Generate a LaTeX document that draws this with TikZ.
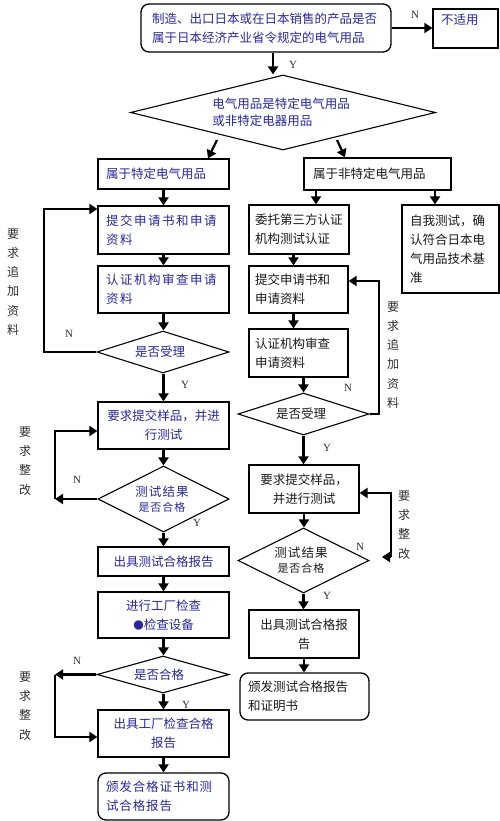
\documentclass[tikz,border=0pt]{standalone}
\usepackage{fontspec}
\setmainfont{Liberation Serif}
\newfontfamily\cjk{Noto Sans CJK SC}
\usetikzlibrary{shapes.geometric,arrows.meta}
\definecolor{navy}{RGB}{40,40,150}
\definecolor{ink}{RGB}{25,25,25}
\definecolor{lab}{RGB}{45,45,45}
\newcommand\lsp[1]{{\addfontfeature{LetterSpace=12}#1}}
\newcommand\lspb[1]{{\addfontfeature{LetterSpace=9}#1}}
\begin{document}
\begin{tikzpicture}[x=1pt,y=1pt,
 bx/.style={draw, line width=1.3pt, inner xsep=8pt, inner ysep=0pt, align=left, font=\cjk\fontsize{12.5}{19}\selectfont, text=navy},
 rbx/.style={bx, inner xsep=6pt, text=ink},
 rnd/.style={rounded corners=8pt},
 dia/.style={diamond, draw, line width=1.1pt, inner sep=0pt},
 dtxt/.style={inner sep=0pt, align=left, font=\cjk\fontsize{12.5}{17}\selectfont, text=navy},
 arr/.style={line width=2.2pt, -{Triangle[width=10pt,length=8pt]}},
 yn/.style={font=\fontsize{11}{11}\selectfont, text=lab, inner sep=0pt},
 vlab/.style={font=\cjk\fontsize{12}{19.3}\selectfont, text=lab, align=center, inner sep=0pt},
]
\useasboundingbox (0,0) rectangle (500,-821);

% top
\node[bx, rnd, text width=228pt, inner xsep=11pt, minimum height=48pt] (top) at (266,-28) {制造、出口日本或在日本销售的产品是否\\属于日本经济产业省令规定的电气用品};
\node[bx, text width=49pt, minimum height=39pt] (na) at (465.5,-28.5) {不适用\\\mbox{}};
\node[dia, minimum width=305pt, minimum height=75pt] (d1) at (283,-112.5) {};
\node[dtxt] (d1t) at (281,-112) {电气用品是特定电气用品\\或非特定电器用品};

% left column
\node[bx, text width=115pt, minimum height=30pt] (L1) at (163.5,-174) {属于特定电气用品};
\node[bx, text width=115pt, minimum height=48pt] (L2) at (163.5,-230) {\lsp{提交申请书和申请}\\\lsp{资料}};
\node[bx, text width=115pt, minimum height=47pt] (L3) at (163.5,-289.5) {\lsp{认证机构审查申请}\\\lsp{资料}};
\node[dia, minimum width=132pt, minimum height=42pt] (Ld1) at (163,-352) {};
\node[dtxt] (Ld1t) at (160,-352) {是否受理};
\node[bx, align=center, text width=115pt, minimum height=47pt] (L4) at (163.5,-425.5) {要求提交样品，并进\\行测试};
\node[dia, minimum width=131pt, minimum height=66pt] (Ld2) at (163.5,-499) {};
\node[dtxt, align=center, font=\cjk\fontsize{12.5}{15}\selectfont] (Ld2t) at (162,-499) {\lspb{测试结果}\\{\fontsize{11}{11}\selectfont\lspb{是否合格}}};
\node[bx, align=center, text width=115pt, minimum height=29pt] (L5) at (163.5,-561.5) {出具测试合格报告};
\node[bx, align=center, text width=115pt, minimum height=46pt] (L6) at (163.5,-615) {进行工厂检查\\{\fontsize{10.5}{10.5}\selectfont ●}检查设备};
\node[dia, minimum width=132pt, minimum height=37pt] (Ld3) at (163,-674.5) {};
\node[dtxt] (Ld3t) at (159,-675) {是否合格};
\node[bx, align=center, text width=115pt, minimum height=47pt] (L7) at (163.5,-733.5) {出具工厂检查合格\\报告};
\node[bx, rnd, text width=115pt, minimum height=47pt] (L8) at (163.5,-796.5) {{\addfontfeature{LetterSpace=7}颁发合格证书和测}\\{\addfontfeature{LetterSpace=7}试合格报告}};

% right column
\node[rbx, inner xsep=9pt, text width=129pt, minimum height=32pt] (R1) at (377.5,-174) {属于非特定电气用品};
\node[rbx, text width=88pt, minimum height=49pt] (R2) at (299,-229.5) {委托第三方认证\\机构测试认证};
\node[rbx, inner xsep=8pt, text width=81pt, minimum height=88pt] (R3) at (450.5,-249) {自我测试，确\\认符合日本电\\气用品技术基\\准};
\node[rbx, text width=87pt, minimum height=47pt] (R4) at (298.5,-289.5) {提交申请书和\\申请资料};
\node[rbx, text width=87pt, minimum height=48pt] (R5) at (298.5,-353) {认证机构审查\\申请资料};
\node[dia, minimum width=131pt, minimum height=42pt] (Rd1) at (303.5,-414) {};
\node[dtxt, text=ink] (Rd1t) at (301,-414) {是否受理};
\node[rbx, align=center, text width=98pt, minimum height=48pt] (R6) at (304,-489) {要求提交样品，\\并进行测试};
\node[dia, minimum width=131pt, minimum height=65pt] (Rd2) at (303.5,-560.5) {};
\node[dtxt, text=ink, align=center, font=\cjk\fontsize{12.5}{15}\selectfont] (Rd2t) at (301,-560) {\lspb{测试结果}\\{\fontsize{11}{11}\selectfont\lspb{是否合格}}};
\node[rbx, align=center, text width=98pt, minimum height=48pt] (R7) at (304,-634) {出具测试合格报\\告};
\node[rbx, rnd, inner xsep=8pt, text width=113pt, minimum height=47pt] (R8) at (304.5,-696.5) {颁发测试合格报告\\和证明书};

% Y / N labels
\node[yn] (n0) at (415,-15) {N};
\node[yn] (y0) at (293,-65) {Y};
\node[yn] (n1) at (69,-334) {N};
\node[yn] (y1) at (185,-385) {Y};
\node[yn] (n2) at (77,-480) {N};
\node[yn] (y2) at (197,-523) {Y};
\node[yn] (n3) at (77,-661) {N};
\node[yn] (y3) at (186,-705) {Y};
\node[yn] (n4) at (348,-388) {N};
\node[yn] (y4) at (327,-448) {Y};
\node[yn] (n5) at (360,-547) {N};
\node[yn] (y5) at (327,-596) {Y};

% vertical labels
\node[vlab] (v1) at (13,-282) {要\\求\\追\\加\\资\\料};
\node[vlab] (v2) at (393,-355) {要\\求\\追\\加\\资\\料};
\node[vlab] (v3) at (25,-461) {要\\求\\整\\改};
\node[vlab] (v4) at (25,-706) {要\\求\\整\\改};
\node[vlab] (v5) at (404,-525) {要\\求\\整\\改};

% main arrows
\draw[arr] ([xshift=7pt]top.south) -- ([xshift=-10pt]d1.north);
\draw[arr] (top.east) -- (top.east -| na.west);
\coordinate (d1l) at (217,-140);
\coordinate (d1r) at (337,-140);
\draw[arr] (d1l) -- ([xshift=44.5pt]L1.north);
\draw[arr] (d1r) -- ([xshift=-32.5pt]R1.north);
\draw[arr] ([xshift=-61.5pt]R1.south) -- ([xshift=17pt]R2.north);
\draw[arr] ([xshift=57.5pt]R1.south) -- ([xshift=-15.5pt]R3.north);

\draw[arr] (L1.south) -- (L2.north);
\draw[arr] (L2.south) -- (L3.north);
\draw[arr] (L3.south) -- (L3.south |- Ld1.north);
\draw[arr] (Ld1.south -| L4.north) -- (L4.north);
\draw[arr] (L4.south) -- (Ld2.north);
\draw[arr] (Ld2.south) -- (L5.north);
\draw[arr] (L5.south) -- (L6.north);
\draw[arr] (L6.south) -- (L6.south |- Ld3.north);
\draw[arr] (Ld3.south -| L7.north) -- (L7.north);
\draw[arr] (L7.south) -- (L8.north);

\draw[arr] ([xshift=-5.5pt]R2.south) -- ([xshift=-5pt]R4.north);
\draw[arr] ([xshift=-5pt]R4.south) -- ([xshift=-5pt]R5.north);
\draw[arr] ([xshift=5pt]R5.south) -- (Rd1.north);
\draw[arr] (Rd1.south) -- (Rd1.south |- R6.north);
\draw[arr] (R6.south) -- (R6.south |- Rd2.north);
\draw[arr] (Rd2.south) -- (Rd2.south |- R7.north);
\draw[arr] (R7.south) -- (R7.south |- R8.north);

% feedback loops
\coordinate (f1) at (44,-280);
\draw[arr] (Ld1.west) -| (f1) |- ([yshift=21pt]L2.west);
\coordinate (f2) at (55,-499);
\draw[arr] (Ld2.west) -- (f2);
\draw[arr] (f2) |- ([yshift=-5.5pt]L4.west);
\coordinate (f3) at (55,-674.5);
\draw[arr] (Ld3.west) -- (f3);
\draw[arr] (f3) |- ([yshift=-3.5pt]L7.west);
\coordinate (f4) at (379,-350);
\draw[arr] (Rd1.east) -| (f4) |- ([yshift=8.5pt]R4.east);
\coordinate (f5) at (391,-557);
\coordinate (f5t) at (382,-557);
\draw[arr] (f5) |- ([yshift=-4pt]R6.east);
\draw[arr] (f5) -- (f5t);
\end{tikzpicture}
\end{document}
